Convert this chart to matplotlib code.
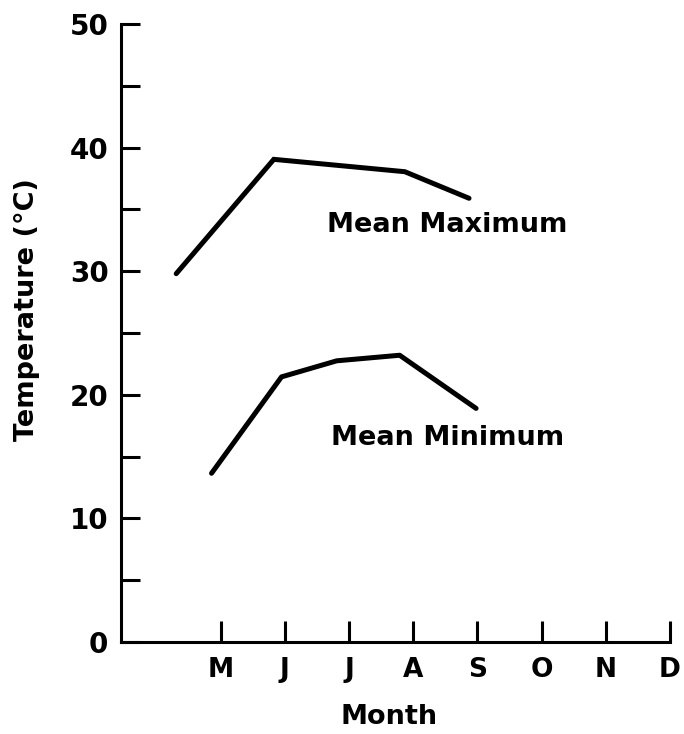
import matplotlib
matplotlib.use("Agg")
import matplotlib.pyplot as plt

months = ["M", "J", "J", "A", "S", "O", "N", "D"]
month_pos = [0, 1, 2, 3, 4, 5, 6, 7]

max_x = [-0.69, 0.83, 2.87, 3.87]
max_t = [29.8, 39.05, 38.05, 35.9]

min_x = [-0.14, 0.95, 1.81, 2.79, 3.98]
min_t = [13.65, 21.45, 22.75, 23.2, 18.9]

y_ticks = [0, 5, 10, 15, 20, 25, 30, 35, 40, 45, 50]
y_labels = ["0", "", "10", "", "20", "", "30", "", "40", "", "50"]

plt.rcParams['font.family'] = ['DejaVu Sans']
plt.rcParams['font.weight'] = 'bold'

fig = plt.figure(figsize=(6.84, 7.34), dpi=100)
ax = fig.add_axes([121/684, 92/734, 549/684, 618/734])

ax.plot(max_x, max_t, color='black', lw=3.6, solid_capstyle='round', solid_joinstyle='miter')
ax.plot(min_x, min_t, color='black', lw=3.6, solid_capstyle='round', solid_joinstyle='round')

ax.set_xlim(-1.55, 7.0)
ax.set_ylim(0, 50)
ax.set_xticks(month_pos)
ax.set_xticklabels(months, fontsize=19, fontweight='bold')
ax.set_yticks(y_ticks)
ax.set_yticklabels(y_labels, fontsize=20, fontweight='bold')

for s in ['top', 'right']:
    ax.spines[s].set_visible(False)
for s in ['left', 'bottom']:
    ax.spines[s].set_linewidth(2.2)
    ax.spines[s].set_capstyle('projecting')

ax.tick_params(axis='x', direction='in', length=15, width=2.2, pad=11)
ax.tick_params(axis='y', direction='in', length=14, width=2.2, pad=9)

ax.annotate("Mean Maximum", xy=(447/684, 1 - 225/734), xycoords='figure fraction',
            ha='center', va='center', fontsize=19.5, fontweight='bold')
ax.annotate("Mean Minimum", xy=(448/684, 1 - 438/734), xycoords='figure fraction',
            ha='center', va='center', fontsize=19.5, fontweight='bold')

fig.text(389/684, 1 - 717/734, "Month", ha='center', va='center', fontsize=19.5, fontweight='bold')
fig.text(27/684, 1 - 310/734, "Temperature (°C)", ha='center', va='center', rotation=90,
         fontsize=19.5, fontweight='bold')

fig.savefig("out.png", dpi=100)
